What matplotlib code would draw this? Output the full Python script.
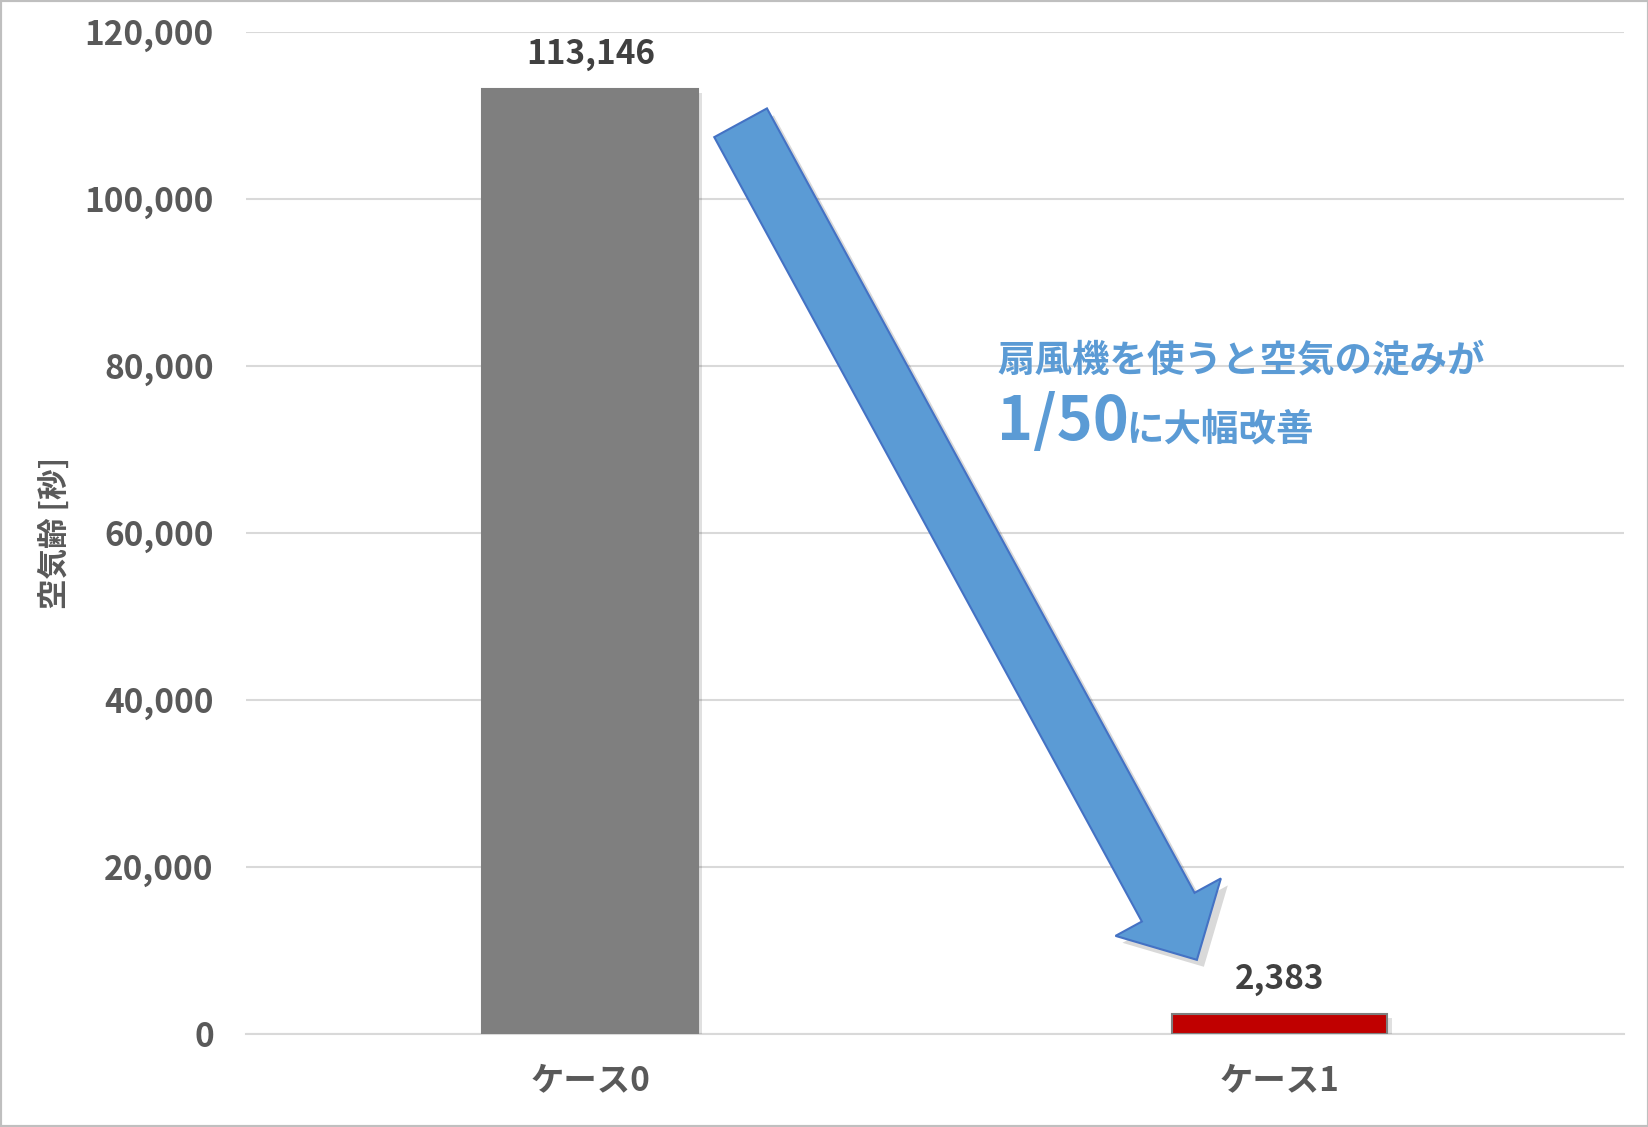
import matplotlib
matplotlib.use("Agg")
import matplotlib.pyplot as plt
import matplotlib.patches as mpatches
import matplotlib.patheffects as pe
from matplotlib.ticker import StrMethodFormatter

plt.rcParams['font.family'] = ['Noto Sans CJK JP', 'DejaVu Sans']

cases = ["ケース0", "ケース1"]
air_age = [113146, 2383]
bar_colors = ["#7F7F7F", "#C00000"]
y_ticks = [0, 20000, 40000, 60000, 80000, 100000, 120000]
note_line1 = "扇風機を使うと空気の淀みが"
note_big = "1/50"
note_rest = "に大幅改善"

fig = plt.figure(figsize=(16.49, 11.27), dpi=100)
ax = fig.add_axes([0.149, 0.0825, 0.836, 0.8895])

shadow = [pe.SimplePatchShadow(offset=(3, -3), shadow_rgbFace="#000000", alpha=0.12), pe.Normal()]
bars = ax.bar(range(len(cases)), air_age, width=0.313, color=bar_colors,
              edgecolor=["#7F7F7F", "#7F7F7F"], linewidth=1.5, zorder=3)
for b in bars:
    b.set_path_effects(shadow)

ax.bar_label(bars, labels=[f"{v:,}" for v in air_age], padding=13,
             fontsize=24, fontweight="bold", color="#404040")

ax.set_xlim(-0.5, 1.5)
ax.set_ylim(0, 120000)
ax.set_yticks(y_ticks)
ax.yaxis.set_major_formatter(StrMethodFormatter("{x:,.0f}"))
ax.set_xticks(range(len(cases)))
ax.set_xticklabels(cases)
ax.tick_params(axis="y", length=0, pad=23, labelsize=24, labelcolor="#595959")
ax.tick_params(axis="x", length=0, pad=22, labelsize=24, labelcolor="#595959")
for lab in ax.get_xticklabels() + ax.get_yticklabels():
    lab.set_fontweight("bold")

ax.grid(axis="y", color="#D9D9D9", linewidth=1.5, zorder=0)
ax.set_axisbelow(True)
for s in ["top", "right", "left"]:
    ax.spines[s].set_visible(False)
ax.spines["bottom"].set_color("#D9D9D9")
ax.spines["bottom"].set_linewidth(1.5)

ax.set_ylabel("空気齢 [秒]", fontsize=22, fontweight="bold", color="#595959", labelpad=0)
ax.yaxis.set_label_coords(-0.127, 0.5)

# big arrow from case 0 down to case 1
fig.canvas.draw()
x0, y0 = ax.transAxes.transform((0.359, 0.909))
x1, y1 = ax.transAxes.transform((0.690, 0.074))
arrow = mpatches.FancyArrow(x0, y0, x1 - x0, y1 - y0, width=60, head_width=120,
                            head_length=60, length_includes_head=True,
                            facecolor="#5B9BD5", edgecolor="#4472C4", linewidth=1.5,
                            transform=None, zorder=5)
arrow.set_path_effects([pe.SimplePatchShadow(offset=(5, -5), shadow_rgbFace="#000000", alpha=0.15), pe.Normal()])
fig.add_artist(arrow)

blue = "#5B9BD5"
ax.text(0.545, 0.672, note_line1, transform=ax.transAxes, fontsize=27,
        fontweight="bold", color=blue, va="center", ha="left", zorder=6)
t_big = ax.text(0.545, 0.5925, note_big, transform=ax.transAxes, fontsize=44,
                fontweight="bold", color=blue, va="baseline", ha="left", zorder=6)
fig.canvas.draw()
bb = t_big.get_window_extent()
xr = ax.transAxes.inverted().transform((bb.x1 - 3, 0))[0]
ax.text(xr, 0.5925, note_rest, transform=ax.transAxes, fontsize=27,
        fontweight="bold", color=blue, va="baseline", ha="left", zorder=6)

fig.add_artist(mpatches.Rectangle((0, 0), 1, 1, transform=fig.transFigure, fill=False,
                                  edgecolor="#BFBFBF", linewidth=3))

fig.savefig("out.png", dpi=100)
